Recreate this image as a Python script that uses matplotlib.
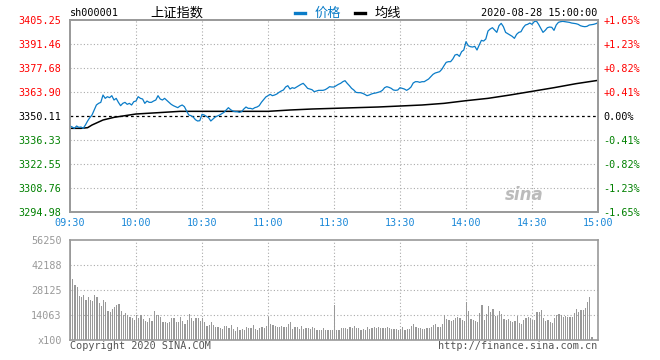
import matplotlib.pyplot as plt
import numpy as np

plt.rcParams['font.family'] = ['DejaVu Sans Mono', 'Noto Sans CJK SC']

# --- data ---
prev_close = 3350.11
price_ticks = [3294.98, 3308.76, 3322.55, 3336.33, 3350.11, 3363.90, 3377.68, 3391.46, 3405.25]
pct_labels = ['-1.65%', '-1.23%', '-0.82%', '-0.41%', '0.00%', '+0.41%', '+0.82%', '+1.23%', '+1.65%']
time_labels = ['09:30', '10:00', '10:30', '11:00', '11:30', '13:30', '14:00', '14:30', '15:00']
vol_ticks = [0, 14063, 28125, 42188, 56250]
vol_labels = ['x100', '14063', '28125', '42188', '56250']

# one point per minute, 09:30-11:30 then 13:01-15:00
price_am = [
    3344.37, 3343.79, 3343.03, 3344.37, 3343.60, 3343.79, 3343.03, 3344.94, 3347.24, 3349.15,
    3350.68, 3353.56, 3356.43, 3357.38, 3357.96, 3362.17, 3360.25, 3361.21, 3360.64, 3361.79,
    3359.30, 3360.25, 3357.96, 3356.04, 3357.38, 3357.96, 3356.81, 3357.38, 3356.43, 3358.34,
    3358.72, 3361.21, 3360.25, 3359.87, 3357.38, 3358.72, 3357.96, 3357.96, 3358.72, 3359.30,
    3361.79, 3359.87, 3359.30, 3360.25, 3359.11, 3357.96, 3356.81, 3356.04, 3355.47, 3354.90,
    3355.85, 3356.43, 3355.47, 3352.98, 3350.68, 3350.30, 3349.54, 3348.00, 3347.24, 3347.43,
    3351.07, 3350.68, 3349.92, 3349.15, 3347.24, 3348.39, 3349.54, 3350.11, 3350.68, 3351.45,
    3352.22, 3353.56, 3354.90, 3353.75, 3352.98, 3352.60, 3352.60, 3352.22, 3352.60, 3354.13,
    3355.28, 3354.51, 3354.51, 3354.13, 3354.90, 3355.28, 3356.04, 3357.96, 3359.49, 3361.02,
    3361.79, 3362.55, 3361.79, 3362.17, 3362.74, 3363.70, 3364.47, 3365.04, 3366.76, 3367.53,
    3365.61, 3366.38, 3366.00, 3366.76, 3367.53, 3368.29, 3368.87, 3367.53, 3366.00, 3365.61,
    3365.23, 3364.08, 3364.47, 3364.85, 3364.85, 3364.85, 3365.23, 3366.00, 3366.95, 3366.76,
    3366.76,
]
price_pm = [
    3367.53, 3368.29, 3368.87, 3369.82, 3370.40, 3368.87, 3367.53, 3366.00, 3365.04, 3363.70,
    3363.51, 3363.51, 3363.13, 3362.55, 3361.79, 3362.17, 3362.74, 3363.13, 3363.32, 3363.70,
    3364.08, 3364.85, 3366.38, 3366.95, 3366.57, 3366.00, 3365.04, 3364.85, 3365.04, 3366.38,
    3366.00, 3365.61, 3364.85, 3365.61, 3366.76, 3369.06, 3369.82, 3369.82, 3369.44, 3369.82,
    3369.82, 3370.59, 3371.36, 3372.70, 3374.04, 3374.80, 3375.18, 3375.57, 3376.91, 3379.01,
    3380.93, 3381.31, 3381.31, 3382.84, 3385.14, 3385.52, 3384.37, 3387.05, 3388.01, 3392.79,
    3390.50, 3389.92, 3389.73, 3390.11, 3388.01, 3390.88, 3393.56, 3393.18, 3394.32, 3398.92,
    3400.07, 3400.83, 3399.49, 3398.15, 3401.98, 3403.32, 3401.41, 3398.15, 3397.39, 3396.62,
    3395.85, 3394.71, 3397.00, 3398.15, 3398.53, 3400.83, 3402.36, 3402.75, 3403.51, 3402.75,
    3404.28, 3404.66, 3402.75, 3400.45, 3398.15, 3399.30, 3400.83, 3401.21, 3401.02, 3399.30,
    3402.36, 3403.89, 3404.28, 3404.47, 3404.28, 3404.08, 3403.89, 3403.51, 3403.32, 3403.13,
    3402.75, 3401.98, 3401.60, 3401.41, 3401.60, 3402.36, 3402.55, 3402.75, 3403.13, 3403.70,
]

avg_minutes = [0, 5, 8, 10, 15, 20, 25, 30, 40, 50, 60, 90, 100, 110, 120,
               130, 140, 150, 160, 170, 180, 190, 200, 210, 220, 230, 240]
avg_values = [3343.03, 3343.03, 3343.41, 3344.94, 3347.81, 3349.34, 3350.30, 3351.26, 3352.02,
              3352.79, 3352.79, 3352.79, 3353.56, 3354.13, 3354.51, 3354.90, 3355.28, 3355.85,
              3356.43, 3357.38, 3358.91, 3360.25, 3362.17, 3364.27, 3366.38, 3368.68, 3370.59]

volume = [
    60000,
    34300, 30900, 29800, 24700, 24200, 25300, 22500, 24200, 22500, 21900,
    25300, 24200, 20800, 19100, 22500, 21400, 16300, 15700, 17400, 18600,
    19700, 20200, 16300, 14100, 15200, 14100, 12900, 12400, 11200, 14100,
    12400, 14100, 11800, 10700, 10100, 12400, 10700, 16300, 14100, 14100,
    12900, 10100, 10100, 9600, 10100, 12400, 12400, 10100, 10100, 12900,
    10700, 9000, 11200, 14600, 12400, 10700, 12400, 12400, 10700, 12400,
    10100, 7900, 8400, 10100, 8400, 7300, 7300, 6700, 6200, 7900,
    7900, 6700, 8400, 6200, 5100, 7300, 5600, 6200, 5600, 7300,
    6700, 6700, 8400, 6200, 5600, 6700, 7300, 6700, 7900, 12900,
    9000, 8400, 7900, 7300, 7300, 7900, 7300, 7300, 9000, 10100,
    6200, 7300, 7300, 6200, 7900, 6200, 6700, 6700, 6200, 7300,
    6700, 5600, 5600, 5600, 6700, 5600, 5600, 5600, 5600, 19700,
    5600, 5600, 6700, 6700, 6700, 6200, 7300, 6700, 7900, 6700,
    6700, 5600, 6200, 5600, 7300, 6200, 6700, 7300, 6700, 7300,
    6700, 6700, 6700, 7300, 6700, 6200, 6200, 6200, 5600, 6200,
    7300, 5600, 6200, 6200, 7900, 9000, 7300, 6700, 6700, 6200,
    6200, 6700, 6700, 7300, 8400, 9000, 7300, 7300, 9000, 14100,
    11800, 11200, 10700, 11200, 12400, 12900, 12400, 11200, 10700, 21400,
    16300, 11800, 11200, 10700, 10100, 15200, 19700, 11200, 14600, 19100,
    15700, 17400, 13500, 13500, 16300, 14600, 11800, 11200, 11800, 10700,
    10100, 10700, 13500, 9600, 9000, 11200, 12400, 12900, 12400, 11200,
    11200, 15700, 15700, 16900, 12400, 10700, 11200, 10100, 9600, 12400,
    14100, 14600, 14100, 12900, 13500, 12900, 12900, 12900, 15200, 17400,
    15700, 16900, 16900, 18000, 21400, 24200, 1700, 0, 0, 0,
]

prices = price_am + price_pm
minutes = np.arange(len(prices))

# --- layout in pixels ---
W, H = 660, 360


def box(left, top, right, bottom):
    return [left / W, 1 - bottom / H, (right - left) / W, (bottom - top) / H]


fig = plt.figure(figsize=(6.6, 3.6), dpi=100)
ax = fig.add_axes(box(70, 20, 598, 212))
axv = fig.add_axes(box(70, 240, 598, 340))

grid_c = '#aaaaaa'
spine_c = '#999999'
blue = '#0a7cc8'
red = '#ff0000'
green = '#008000'
dots = (0, (1, 2))

# price panel
for y in price_ticks[1:-1]:
    if y == prev_close:
        ax.axhline(y, color='black', lw=0.9, ls=(0, (2.2, 2.2)), zorder=1)
    else:
        ax.axhline(y, color=grid_c, lw=0.8, ls=dots, zorder=1)
for x in range(30, 240, 30):
    ax.axvline(x, color=grid_c, lw=0.8, ls=dots, zorder=1)

ax.plot(minutes, prices, color=blue, lw=0.9, zorder=3)
ax.plot(avg_minutes, avg_values, color='black', lw=1.1, zorder=2)

ax.set_xlim(0, 240)
ax.set_ylim(price_ticks[0], price_ticks[-1])
ax.set_xticks(range(0, 241, 30), labels=time_labels)
ax.tick_params(axis='x', length=0, pad=4, labelsize=7.3, labelcolor='#1a88d8')
ax.set_yticks(price_ticks, labels=[f'{p:.2f}' for p in price_ticks])
ax.tick_params(axis='y', length=0, pad=6, labelsize=7.3)
for lab, p in zip(ax.get_yticklabels(), price_ticks):
    lab.set_color(red if p > prev_close else green if p < prev_close else 'black')

ax_r = ax.twinx()
ax_r.set_ylim(price_ticks[0], price_ticks[-1])
ax_r.set_yticks(price_ticks, labels=pct_labels)
ax_r.tick_params(axis='y', length=0, pad=4, labelsize=7.3)
for lab, p in zip(ax_r.get_yticklabels(), price_ticks):
    lab.set_color(red if p > prev_close else green if p < prev_close else 'black')

for a in (ax, ax_r, axv):
    for s in a.spines.values():
        s.set_color(spine_c)
        s.set_linewidth(1.2)

ax.text(0.86, 0.09, 'sina', transform=ax.transAxes, fontsize=12, color='#bbbbbb',
        style='italic', fontweight='bold', family='DejaVu Sans', ha='center', va='center')

# volume panel
for y in vol_ticks[1:-1]:
    axv.axhline(y, color=grid_c, lw=0.8, ls=dots, zorder=1)
for x in range(30, 240, 30):
    axv.axvline(x, color=grid_c, lw=0.8, ls=dots, zorder=1)
axv.bar(np.arange(len(volume)), volume, width=0.5, align='edge', color='#999999',
        linewidth=0, zorder=2)
axv.set_xlim(0, 240)
axv.set_ylim(0, vol_ticks[-1])
axv.set_xticks([])
axv.set_yticks(vol_ticks, labels=vol_labels)
axv.tick_params(axis='y', length=0, pad=6, labelsize=7.3, labelcolor='#999999')

# header and footer
fig.text(70 / W, 1 - 13 / H, 'sh000001', fontsize=7.3, va='center', ha='left')
fig.text(150 / W, 1 - 13 / H, '上证指数', fontsize=9.5, va='center', ha='left',
         family='Noto Sans CJK SC')
fig.add_artist(plt.Line2D([295 / W, 305 / W], [1 - 12.5 / H] * 2, color=blue, lw=2.4))
fig.text(315 / W, 1 - 13 / H, '价格', fontsize=9.5, va='center', ha='left',
         family='Noto Sans CJK SC', color=blue)
fig.add_artist(plt.Line2D([355 / W, 365 / W], [1 - 12.5 / H] * 2, color='black', lw=2.4))
fig.text(375 / W, 1 - 13 / H, '均线', fontsize=9.5, va='center', ha='left',
         family='Noto Sans CJK SC')
fig.text(597 / W, 1 - 13 / H, '2020-08-28 15:00:00', fontsize=7.3, va='center', ha='right')
fig.text(70 / W, 1 - 346 / H, 'Copyright 2020 SINA.COM', fontsize=7.3, va='center', ha='left',
         color='#555555')
fig.text(597 / W, 1 - 346 / H, 'http://finance.sina.com.cn', fontsize=7.3, va='center',
         ha='right', color='#555555')

fig.savefig('out.png', dpi=100)
